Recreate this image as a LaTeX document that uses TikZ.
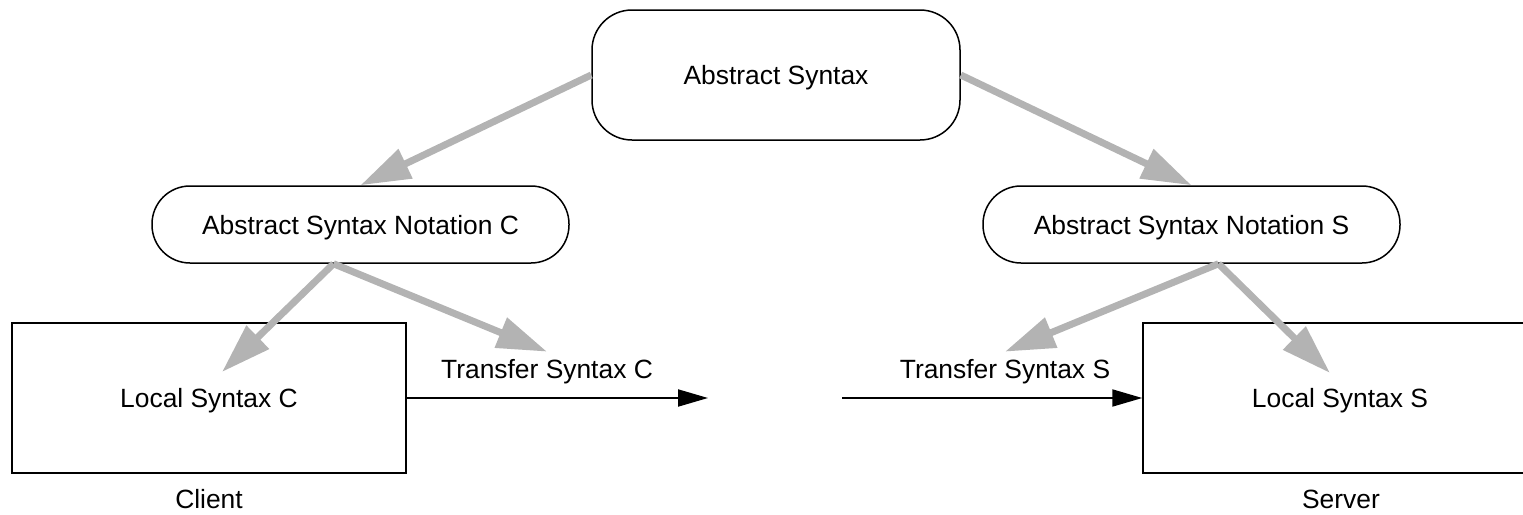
\documentclass[tikz,border=0pt]{standalone}
\usepackage{fontspec}
\setmainfont{Liberation Sans}
\usetikzlibrary{arrows.meta,calc}

\definecolor{flowgray}{HTML}{B3B3B3}

\tikzset{
  every node/.style={font=\fontsize{26.4}{31}\selectfont, text depth=0pt},
  syntaxbox/.style={draw, line width=1.5pt, minimum width=394pt, minimum height=150pt, inner sep=0pt},
  notation/.style={draw, line width=1.5pt, rounded corners=38pt, minimum width=417pt, minimum height=77pt, inner sep=0pt},
  toplevel/.style={draw, line width=1.5pt, rounded corners=40pt, minimum width=368pt, minimum height=130pt, inner sep=0pt},
  caption/.style={inner sep=8pt},
  derive/.style={draw=flowgray, line width=7pt, -{Triangle[length=50pt, width=31pt, fill=flowgray]}},
  transfer/.style={draw=black, line width=2pt, -{Triangle[length=30pt, width=17pt]}}
}

\begin{document}
\begin{tikzpicture}[x=1pt, y=-1pt]
  \useasboundingbox (0,0) rectangle (1523,514);
  \clip (0,0) rectangle (1523,514);

  % abstract syntax and its two notations
  \node[toplevel] (top) at (776,75) {Abstract Syntax};
  \node[notation] (nc) at (360.5,224.5) {Abstract Syntax Notation C};
  \node[notation] (ns) at (1191.5,224.5) {Abstract Syntax Notation S};

  % client and server local syntaxes
  \node[syntaxbox] (lc) at (209,398) {Local Syntax C};
  \node[syntaxbox] (ls) at (1340,398) {Local Syntax S};
  \node (client) at (209,499) {Client};
  \node (server) at (1341,499) {Server};

  % transfer syntax labels
  \node[caption] (tc) at (547,369.4) {Transfer Syntax C};
  \node[caption] (ts) at (1005,369.4) {Transfer Syntax S};

  % helper points
  \coordinate (ncout) at ($(nc.south)+(-27,0)$);
  \coordinate (nsout) at ($(ns.south)+(27,0)$);
  \coordinate (lcin) at (222,372);
  \coordinate (lsin) at (1330,373);
  \coordinate (sendc) at (708,398);
  \coordinate (recvs) at (842,398);

  % derivation arrows
  \draw[derive] (top.west) -- (nc.north);
  \draw[derive] (top.east) -- (ns.north);
  \draw[derive] (ncout) -- (lcin);
  \draw[derive] (ncout) -- (tc.north);
  \draw[derive] (nsout) -- (lsin);
  \draw[derive] (nsout) -- (ts.north);

  % transfer arrows
  \draw[transfer] (lc.east) -- (sendc);
  \draw[transfer] (recvs) -- (ls.west);
\end{tikzpicture}
\end{document}
